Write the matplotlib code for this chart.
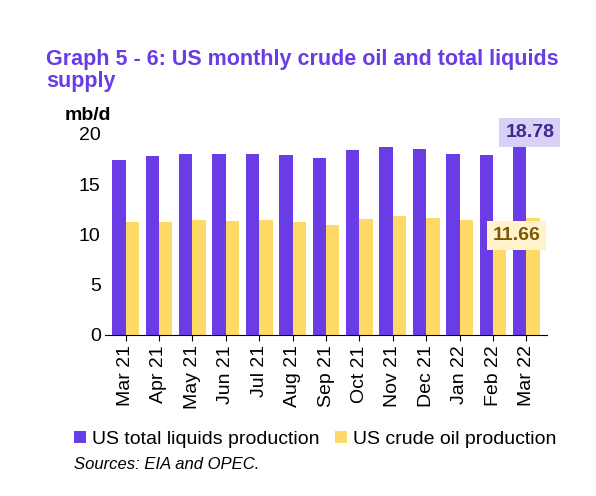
import matplotlib.pyplot as plt
import numpy as np

plt.rcParams["font.family"] = ["Liberation Sans", "DejaVu Sans"]

months = ["Mar 21", "Apr 21", "May 21", "Jun 21", "Jul 21", "Aug 21", "Sep 21",
          "Oct 21", "Nov 21", "Dec 21", "Jan 22", "Feb 22", "Mar 22"]
total_liquids = [17.4, 17.8, 18.0, 18.0, 18.0, 17.9, 17.6, 18.4, 18.7, 18.5, 18.0, 17.9, 18.78]
crude = [11.2, 11.2, 11.4, 11.3, 11.4, 11.2, 10.9, 11.5, 11.8, 11.6, 11.4, 11.3, 11.66]

purple = "#6a3ce6"
yellow = "#ffd966"

fig = plt.figure(figsize=(5.96, 4.96), dpi=100)
ax = fig.add_axes([0.177, 0.325, 0.74, 0.405])
x = np.arange(len(months))
w = 0.4
ax.bar(x - w / 2, total_liquids, w, color=purple, label="US total liquids production")
ax.bar(x + w / 2, crude, w, color=yellow, label="US crude oil production")

ax.set_ylim(0, 20)
ax.set_yticks([0, 5, 10, 15, 20])
ax.set_xlim(-0.6, len(months) - 0.4)
ax.set_xticks(x)
ax.set_xticklabels(months, rotation=90, fontsize=14)
ax.tick_params(axis="y", labelsize=14, length=0)
ax.tick_params(axis="x", length=4)
for s in ["top", "right", "left"]:
    ax.spines[s].set_visible(False)

ax.text(x[-1] + 0.1, total_liquids[-1] + 0.5, f"{total_liquids[-1]:.2f}", ha="center", va="bottom",
        fontsize=14, fontweight="bold", color="#3d2a8c",
        bbox=dict(boxstyle="square,pad=0.3", fc="#d9d0f7", ec="none"))
ax.text(x[-1] - 0.3, crude[-1] - 1.8, f"{crude[-1]:.2f}", ha="center", va="center",
        fontsize=14, fontweight="bold", color="#7a5a00",
        bbox=dict(boxstyle="square,pad=0.3", fc="#fff2cc", ec="none"))

fig.text(0.078, 0.815, "Graph 5 - 6: US monthly crude oil and total liquids\nsupply",
         fontsize=15.5, fontweight="bold", color="#6a3ce6", va="bottom", linespacing=1.05)
fig.text(0.108, 0.75, "mb/d", fontsize=14, fontweight="bold", va="bottom")

ax.legend(loc="upper left", bbox_to_anchor=(-0.11, -0.39), ncol=2, frameon=False,
          fontsize=14, handlelength=0.6, handleheight=0.6, handletextpad=0.3,
          columnspacing=0.8)
fig.text(0.125, 0.055, "Sources: EIA and OPEC.", fontsize=12, style="italic")

fig.savefig("out.png")
